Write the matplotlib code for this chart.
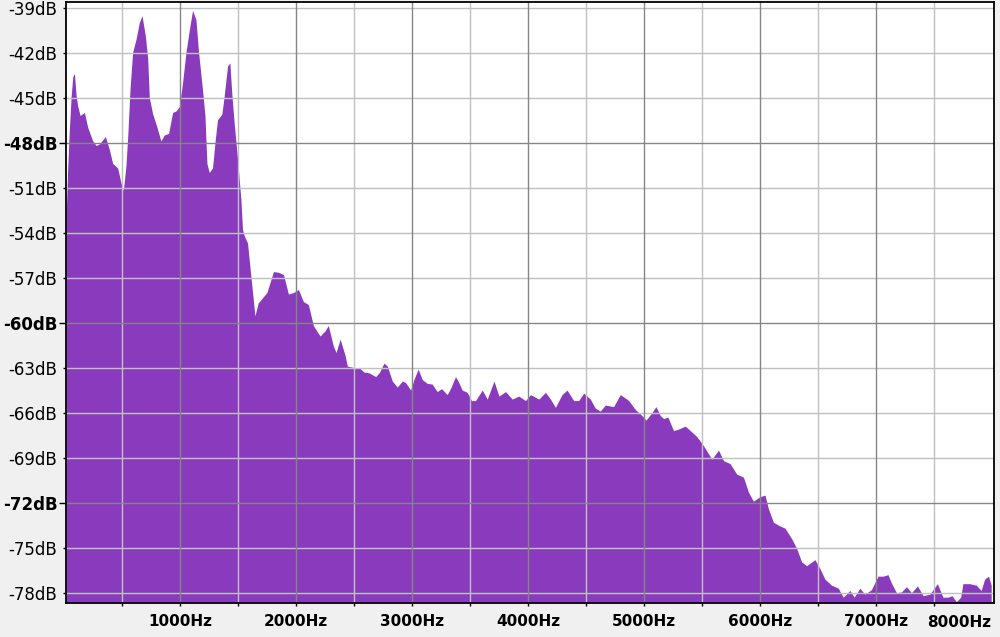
import matplotlib
matplotlib.use("Agg")
import matplotlib.pyplot as plt
import matplotlib.transforms as mtransforms
import numpy as np

# spectrum (frequency in Hz, level in dB)
freq = [21, 34, 49, 64, 78, 92, 107, 121, 141, 178, 207, 250, 279, 307, 359, 394,
        422, 465, 494, 514, 537, 551, 572, 594, 624, 652, 675, 704, 724, 738, 767,
        801, 838, 867, 904, 939, 968, 997, 1025, 1054, 1083, 1111, 1140, 1163, 1197,
        1218, 1235, 1255, 1283, 1307, 1326, 1364, 1384, 1413, 1433, 1450, 1470, 1499,
        1528, 1542, 1556, 1585, 1614, 1649, 1677, 1752, 1809, 1852, 1895, 1938, 1981,
        2024, 2067, 2110, 2153, 2211, 2254, 2282, 2325, 2349, 2384, 2427, 2446, 2504,
        2547, 2590, 2633, 2691, 2725, 2762, 2791, 2834, 2877, 2920, 2949, 2992, 3020,
        3057, 3092, 3135, 3178, 3221, 3259, 3307, 3336, 3379, 3408, 3437, 3480, 3518,
        3552, 3610, 3653, 3711, 3754, 3811, 3868, 3925, 3983, 4026, 4098, 4155, 4198,
        4241, 4298, 4341, 4399, 4442, 4485, 4542, 4585, 4628, 4671, 4743, 4800, 4857,
        4873, 4931, 4988, 5022, 5074, 5108, 5146, 5174, 5211, 5260, 5303, 5361, 5404,
        5461, 5518, 5590, 5648, 5691, 5748, 5805, 5863, 5906, 5949, 6006, 6049, 6078,
        6121, 6164, 6221, 6279, 6322, 6365, 6408, 6480, 6523, 6566, 6623, 6681, 6724,
        6781, 6818, 6867, 6910, 6967, 7024, 7067, 7110, 7139, 7183, 7226, 7269, 7312,
        7364, 7413, 7470, 7536, 7584, 7627, 7662, 7699, 7737, 7756, 7814, 7871, 7914,
        7943, 7977, 8000]
level = [-52.8, -49.7, -47.0, -44.9, -43.6, -43.4, -44.9, -45.6, -46.2, -46.0, -47.0,
         -47.9, -48.2, -48.1, -47.6, -48.5, -49.4, -49.7, -50.7, -51.2, -49.5, -47.7,
         -44.4, -42.0, -41.1, -40.0, -39.55, -40.9, -42.4, -45.0, -46.1, -46.9, -47.9,
         -47.5, -47.4, -46.0, -45.9, -45.6, -44.0, -42.0, -40.5, -39.2, -39.8, -42.0,
         -44.5, -46.2, -49.4, -50.0, -49.7, -47.8, -46.5, -46.1, -44.9, -42.9, -42.7,
         -44.8, -46.7, -49.1, -51.8, -53.8, -54.2, -54.7, -56.9, -59.55, -58.7, -58.0,
         -56.6, -56.65, -56.8, -58.1, -58.0, -57.8, -58.6, -58.8, -60.2, -60.9, -60.55,
         -60.2, -61.55, -62.0, -61.1, -62.2, -62.9, -63.0, -63.0, -63.3, -63.35, -63.6,
         -63.3, -62.7, -62.9, -63.9, -64.3, -63.9, -64.0, -64.5, -63.8, -63.1, -63.8,
         -64.05, -64.1, -64.6, -64.4, -64.8, -64.4, -63.6, -64.0, -64.5, -64.65, -65.2,
         -65.2, -64.5, -65.1, -63.9, -64.9, -64.6, -65.1, -64.9, -65.2, -64.8, -65.1,
         -64.65, -65.1, -65.65, -64.8, -64.5, -65.2, -65.2, -64.7, -65.1, -65.7, -65.9,
         -65.5, -65.6, -64.8, -65.1, -65.2, -65.8, -66.2, -66.5, -66.0, -65.6, -66.2,
         -66.4, -66.3, -67.2, -67.1, -66.9, -67.2, -67.6, -68.2, -69.1, -68.5, -69.2,
         -69.4, -70.1, -70.3, -71.3, -71.9, -71.6, -71.5, -72.4, -73.3, -73.5, -73.7,
         -74.4, -75.05, -75.95, -76.2, -75.8, -76.4, -77.1, -77.5, -77.7, -78.3, -77.85,
         -78.3, -77.7, -78.1, -77.8, -76.9, -76.9, -76.8, -77.35, -78.0, -77.95, -77.6,
         -78.0, -77.55, -78.2, -78.1, -77.4, -78.3, -78.3, -78.2, -78.6, -78.3, -77.4,
         -77.4, -77.5, -77.85, -77.1, -76.9, -77.5]

x_major = [1000, 2000, 3000, 4000, 5000, 6000, 7000]
x_major_labels = ['1000Hz', '2000Hz', '3000Hz', '4000Hz', '5000Hz', '6000Hz', '7000Hz']
x_minor = [500, 1500, 2500, 3500, 4500, 5500, 6500, 7500]
last_label = '8000Hz'
y_major = [-72, -60, -48]
y_minor = [-78, -75, -69, -66, -63, -57, -54, -51, -45, -42, -39]

fig = plt.figure(figsize=(10, 6.37), dpi=100, facecolor='#f0f0f0')
ax = fig.add_axes([0.066, 0.053, 0.928, 0.944])
ax.set_facecolor('white')

ax.fill_between(freq, level, -100, color='#8a3bbd', linewidth=0, zorder=1)

ax.set_xlim(15, 8020)
ax.set_ylim(-78.67, -38.6)

# grid drawn over the spectrum, darker on the major lines
for v in x_minor:
    ax.axvline(v, color='#c0c0c0', lw=1.0, zorder=2)
for v in y_minor:
    ax.axhline(v, color='#c0c0c0', lw=1.0, zorder=2)
for v in x_major:
    ax.axvline(v, color='#858585', lw=1.0, zorder=3)
for v in y_major:
    ax.axhline(v, color='#858585', lw=1.0, zorder=3)

ax.set_xticks(x_major)
ax.set_xticklabels(x_major_labels, fontsize=11, fontweight='bold')
ax.set_xticks(x_minor, minor=True)
ax.set_yticks(y_major)
ax.set_yticklabels(['%ddB' % v for v in y_major], fontsize=12, fontweight='bold')
ax.set_yticks(y_minor, minor=True)
ax.set_yticklabels(['%ddB' % v for v in y_minor], minor=True, fontsize=12)

ax.tick_params(axis='x', which='both', length=2.2, width=1, pad=5.5, colors='black')
ax.tick_params(axis='y', which='major', length=5, width=1, pad=1.2)
ax.tick_params(axis='y', which='minor', length=2.2, width=1, pad=4)

# last label sits to the right of its tick
trans = mtransforms.blended_transform_factory(ax.transData, ax.transAxes)
trans = trans + mtransforms.ScaledTranslation(-7 / 100, 0, fig.dpi_scale_trans)
ax.text(x_minor[-1], -0.0195, last_label, transform=trans, ha='left', va='top',
        fontsize=11, fontweight='bold')

for s in ax.spines.values():
    s.set_color('black')
    s.set_linewidth(1.3)
    s.set_zorder(5)

fig.savefig('out.png', dpi=100, facecolor=fig.get_facecolor())
